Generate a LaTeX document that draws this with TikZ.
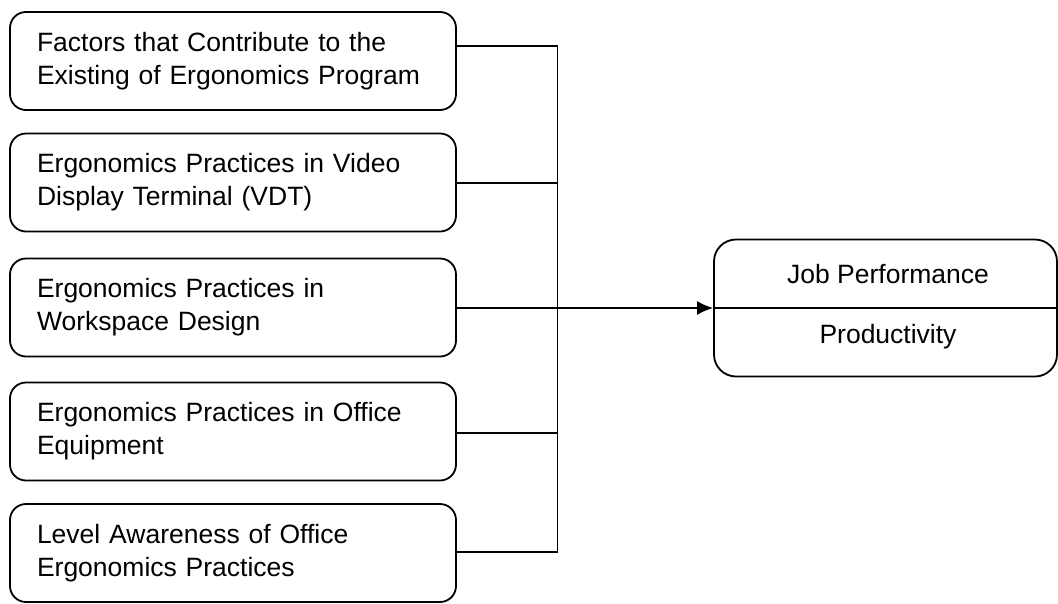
\documentclass[tikz,border=0pt]{standalone}
\usepackage{fontspec}
\setmainfont{Liberation Sans}
\usetikzlibrary{arrows.meta,calc}
\begin{document}
\begin{tikzpicture}[x=1pt,y=-1pt,
  lbox/.style={draw, line width=1.8pt, rounded corners=16pt, minimum width=446pt, minimum height=98pt, text width=392pt, align=left, inner sep=0pt, font=\fontsize{26.5}{33}\selectfont},
  rbox/.style={draw, line width=1.8pt, rounded corners=22pt, minimum width=343pt, minimum height=137pt, inner sep=0pt},
  lbl/.style={font=\fontsize{26.5}{33}\selectfont, inner sep=0pt},
  conn/.style={line width=1.7pt},
]
\useasboundingbox (0,0) rectangle (1058,603);
\node[lbox] (b1) at (233,61) {Factors that Contribute to the\\Existing of Ergonomics Program};
\node[lbox] (b2) at (233,182.5) {Ergonomics Practices in Video\\Display Terminal (VDT)};
\node[lbox] (b3) at (233,307.5) {Ergonomics Practices in\\Workspace Design};
\node[lbox] (b4) at (233,431.5) {Ergonomics Practices in Office\\Equipment};
\node[lbox] (b5) at (233,553) {Level Awareness of Office\\Ergonomics Practices};
\node[rbox] (out) at (885.5,308) {};
\draw[line width=1.8pt] (out.west) -- (out.east);
\node[lbl] (t1) at (888,274) {Job Performance};
\node[lbl] (t2) at (888,337) {Productivity};
\coordinate (bt) at (557.5,46);
\coordinate (c2) at (557.5,183);
\coordinate (c4) at (557.5,433);
\coordinate (bb) at (557.5,552);
\draw[conn] (b1.east |- bt) -- (bt) -- (bb) -- (b5.east |- bb);
\draw[conn] (b2.east |- c2) -- (c2);
\draw[conn] (b4.east |- c4) -- (c4);
\draw[conn, -{Latex[length=16pt,width=14pt]}] (b3.east |- out.west) -- (out.west);
\end{tikzpicture}
\end{document}
